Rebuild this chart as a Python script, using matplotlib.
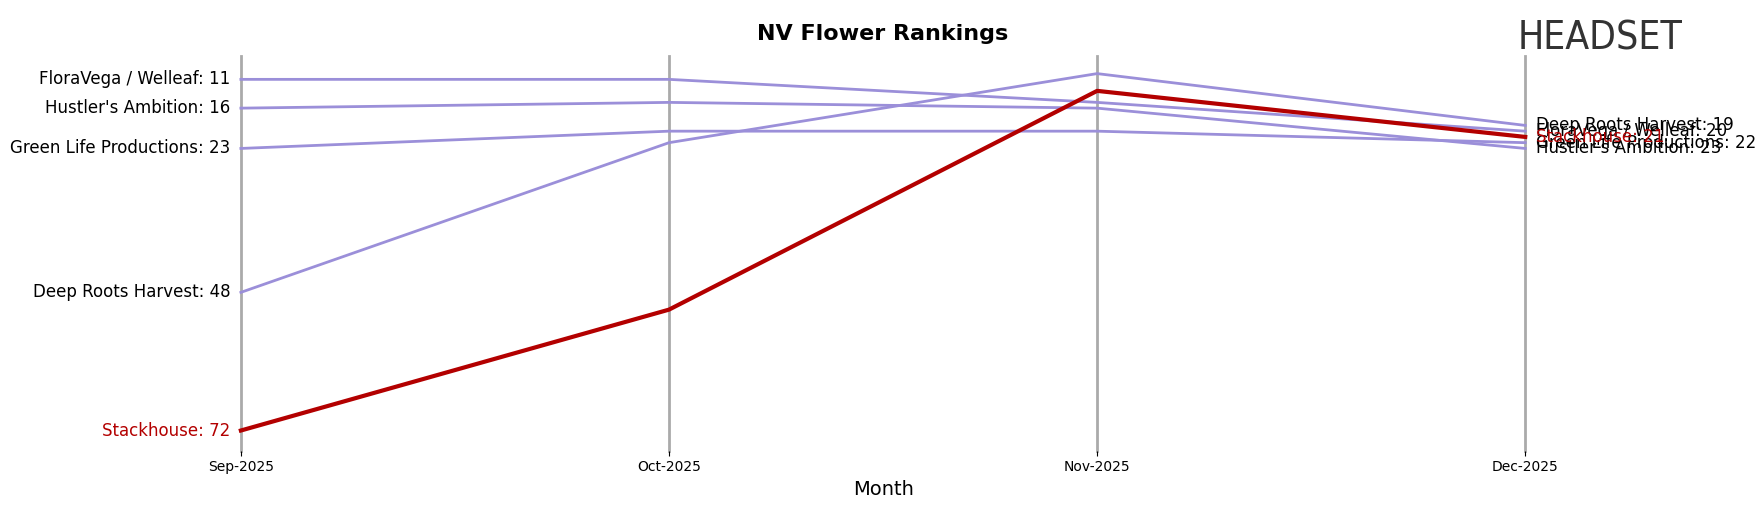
import matplotlib
matplotlib.use("Agg")
import matplotlib.pyplot as plt

months = ["Sep-2025", "Oct-2025", "Nov-2025", "Dec-2025"]
brands = ["FloraVega / Welleaf", "Hustler's Ambition", "Green Life Productions", "Deep Roots Harvest", "Stackhouse"]
ranks = {
    "FloraVega / Welleaf": [11, 11, 15, 20],
    "Hustler's Ambition": [16, 15, 16, 23],
    "Green Life Productions": [23, 20, 20, 22],
    "Deep Roots Harvest": [48, 22, 10, 19],
    "Stackhouse": [72, 51, 13, 21],
}
highlight = "Stackhouse"

W, H = 1568, 450
fig = plt.figure(figsize=(17.65, 5.07), dpi=100)
ax = fig.add_axes([214/W, 1-400/H, (1355-214)/W, 350/H])
x = list(range(len(months)))
for xi in x:
    ax.axvline(xi, color="#aaaaaa", lw=2, zorder=0, clip_on=False)
for b in brands:
    c = "#b30000" if b == highlight else "#9b8fd9"
    lw = 3 if b == highlight else 2
    ax.plot(x, ranks[b], color=c, lw=lw, zorder=3 if b == highlight else 2, clip_on=False)
    ax.text(-0.025, ranks[b][0], f"{b}: {ranks[b][0]}", ha="right", va="center", fontsize=12,
            color="#b30000" if b == highlight else "black")
    ax.text(3.025, ranks[b][-1], f"{b}: {ranks[b][-1]}", ha="left", va="center", fontsize=12,
            color="#b30000" if b == highlight else "black")
ax.set_xlim(0, 3)
ax.set_ylim(75.5, 7)
ax.set_yticks([])
ax.set_xticks(x)
ax.set_xticklabels(months, fontsize=10)
for s in ax.spines.values():
    s.set_visible(False)
ax.set_xlabel("Month", fontsize=14)
ax.set_title("NV Flower Rankings", fontsize=16, fontweight="bold", pad=12)
fig.text(1348/W, 1-34/H, "HEADSET", fontsize=28, color="#333333", va="center", ha="left",
         fontstretch="condensed")
fig.savefig("out.png", dpi=100)
